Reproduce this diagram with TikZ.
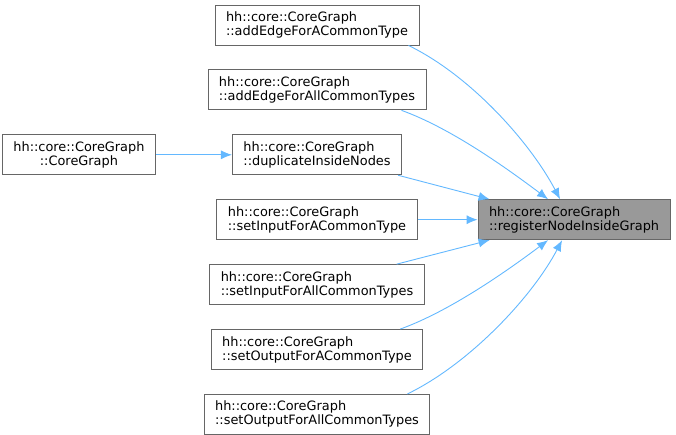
\documentclass[tikz,border=0pt]{standalone}
\usepackage{fontspec}
\setmainfont{DejaVu Sans}
\definecolor{edgeblue}{HTML}{63B8FF}
\definecolor{boxgray}{HTML}{666666}
\definecolor{focusgray}{HTML}{999999}
\usetikzlibrary{arrows.meta, positioning}
\tikzset{
	fn/.style={rectangle, draw=boxgray, fill=white, line width=0.9pt, align=left, inner xsep=11pt, minimum height=40pt, font=\fontsize{12.9}{14}\selectfont},
	focus/.style={fn, fill=focusgray},
	call/.style={{Latex[length=11pt, width=9pt]}-, line width=0.9pt, draw=edgeblue},
}

\begin{document}
\begin{tikzpicture}[x=1pt, y=1pt, node distance=24pt and 60pt]
		\useasboundingbox (0,0) rectangle (676,-435);
		\node[fn] (addA) at (317,-25) {hh::core::CoreGraph\\::addEdgeForACommonType};
		\node[fn, below=of addA] (addAll) {hh::core::CoreGraph\\::addEdgeForAllCommonTypes};
		\node[fn, below=of addAll] (dup) {hh::core::CoreGraph\\::duplicateInsideNodes};
		\node[fn, below=of dup] (inA) {hh::core::CoreGraph\\::setInputForACommonType};
		\node[fn, below=of inA] (inAll) {hh::core::CoreGraph\\::setInputForAllCommonTypes};
		\node[fn, below=of inAll] (outA) {hh::core::CoreGraph\\::setOutputForACommonType};
		\node[fn, below=of outA] (outAll) {hh::core::CoreGraph\\::setOutputForAllCommonTypes};
		\node[fn, align=center, left=76pt of dup] (ctor) {hh::core::CoreGraph\\::CoreGraph};
		\node[focus, right=of inA] (reg) {hh::core::CoreGraph\\::registerNodeInsideGraph};
		\draw[call] (dup) -- (ctor);
		\draw[call] ([xshift=-14pt]reg.north) .. controls +(-30,57) and +(62,-30) .. ([xshift=-11pt]addA.south east);
		\draw[call] ([xshift=-26pt]reg.north) .. controls +(-40,30) and +(50,-18) .. ([xshift=-25pt]addAll.south east);
		\draw[call] ([xshift=12pt]reg.north west) -- ([xshift=-4pt]dup.south east);
		\draw[call] (reg) -- (inA);
		\draw[call] ([xshift=12pt]reg.south west) -- ([xshift=-28pt]inAll.north east);
		\draw[call] ([xshift=-26pt]reg.south) .. controls +(-40,-30) and +(50,18) .. ([xshift=-23pt]outA.north east);
		\draw[call] ([xshift=-12pt]reg.south) .. controls +(-30,-57) and +(62,30) .. ([xshift=-23pt]outAll.north east);
	\end{tikzpicture}
\end{document}
